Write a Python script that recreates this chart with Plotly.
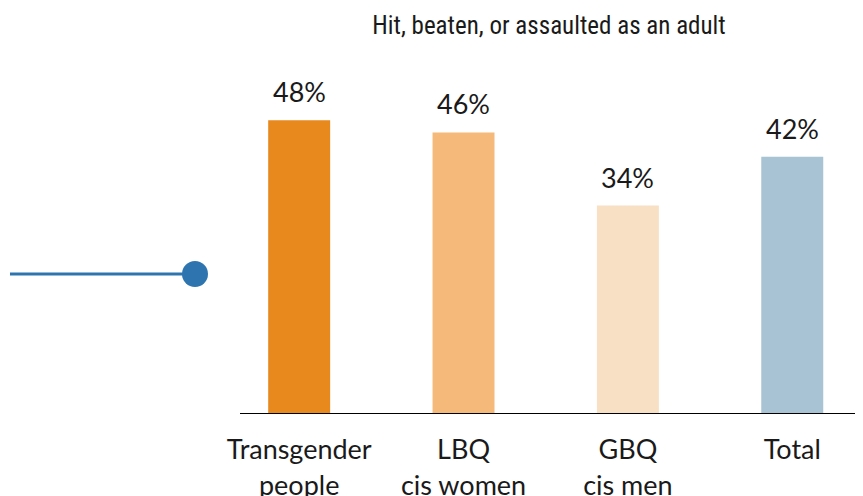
import plotly.graph_objects as go

categories = ["Transgender<br>people", "LBQ<br>cis women", "GBQ<br>cis men", "Total"]
values = [48, 46, 34, 42]
value_labels = ["48%", "46%", "34%", "42%"]
bar_colors = ["#E8891E", "#F5B979", "#F7E0C4", "#A7C3D4"]
title_text = "Hit, beaten, or assaulted as an adult"

OFF = 8  # page body margin
W, H = 863 - OFF, 496 - OFF
ml, mr, mt, mb = 240 - OFF, 5, 47 - OFF, 83
pw, ph = W - ml - mr, H - mt - mb

def px_x(p):
    return (p - OFF - ml) / pw

def px_y(p):
    return (H - mb - (p - OFF)) / ph

xs = list(range(len(categories)))

fig = go.Figure()
fig.add_trace(go.Bar(
    x=xs,
    y=values,
    marker=dict(color=bar_colors, line=dict(width=0)),
    width=0.377,
    hoverinfo="skip",
))

annotations = [
    dict(x=x, y=v, text=t, xref="x", yref="y", showarrow=False,
         yanchor="bottom", yshift=10,
         font=dict(family="Lato", size=27, color="#1a1a1a"))
    for x, v, t in zip(xs, values, value_labels)
]

fig.update_layout(
    width=W, height=H,
    margin=dict(l=ml, r=mr, t=mt, b=mb, autoexpand=False),
    paper_bgcolor="white", plot_bgcolor="white",
    showlegend=False,
    title=dict(text=title_text, x=0.5, xref="paper", xanchor="center",
               y=1 - (25 - OFF) / H, yref="container", yanchor="middle",
               font=dict(family="Roboto Condensed, Roboto", size=25, color="#1a1a1a")),
    xaxis=dict(range=[-0.36, 3.40], tickmode="array", tickvals=xs,
               ticktext=categories, showgrid=False, zeroline=False,
               showline=True, linecolor="#000000", linewidth=1, ticks="",
               ticklabelstandoff=13, automargin=False,
               tickfont=dict(family="Lato", size=27, color="#1a1a1a")),
    yaxis=dict(range=[0, 60], visible=False, showgrid=False, zeroline=False,
               automargin=False),
    annotations=annotations,
    shapes=[
        dict(type="line", xref="paper", yref="paper",
             x0=px_x(10), x1=px_x(195), y0=px_y(274), y1=px_y(274),
             line=dict(color="#2E75B0", width=3)),
        dict(type="circle", xref="paper", yref="paper",
             x0=px_x(182), x1=px_x(208), y0=px_y(287), y1=px_y(261),
             fillcolor="#2E75B0", line=dict(color="#2E75B0", width=0)),
    ],
)

fig.write_html("out.html")
